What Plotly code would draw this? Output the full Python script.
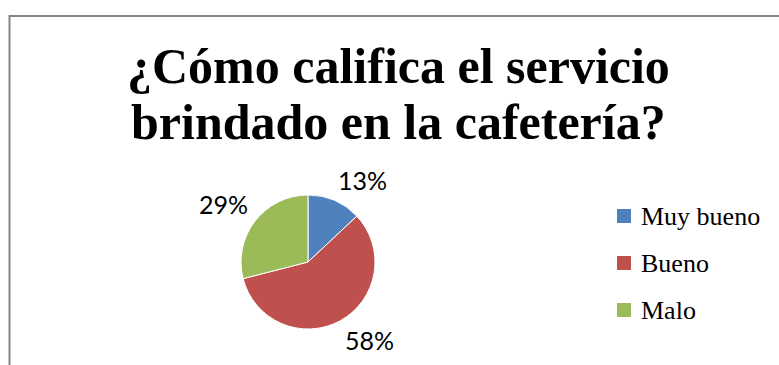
import math
import plotly.graph_objects as go

# Survey results: rating of the cafeteria service
categories = ["Muy bueno", "Bueno", "Malo"]
percentages = [13, 58, 29]
colors = ["#4F81BD", "#C0504D", "#9BBB59"]
title_lines = ["¿Cómo califica el servicio", "brindado en la cafetería?"]

W, H = 779, 365

# Pie geometry in pixels (from the top-left corner of the page)
cx_px, cy_px, r_px = 308, 262, 67

fig = go.Figure()
fig.add_trace(go.Pie(
    labels=categories,
    values=percentages,
    sort=False,
    direction="clockwise",
    rotation=0,
    marker=dict(colors=colors, line=dict(color="white", width=1)),
    textinfo="none",
    hoverinfo="label+percent",
    showlegend=False,
    domain=dict(
        x=[(cx_px - r_px) / W, (cx_px + r_px) / W],
        y=[(H - cy_px - r_px) / H, (H - cy_px + r_px) / H],
    ),
))

# Percentage labels just outside each slice, pushed outward by half the text box
label_gap = 10
half_w, half_h = 24, 11
total = sum(percentages)
cum = 0
annotations = []
for v in percentages:
    mid = (cum + v / 2) / total * 2 * math.pi
    cum += v
    sx, sy = math.sin(mid), math.cos(mid)  # sy > 0 means upward
    dist = r_px + label_gap
    px = cx_px + sx * dist + (half_w if sx >= 0 else -half_w)
    py = cy_px - sy * dist - (half_h if sy >= 0 else -half_h)
    annotations.append(dict(
        x=px / W, y=(H - py) / H, xref="paper", yref="paper",
        text=f"{round(v / total * 100)}%", showarrow=False,
        xanchor="center", yanchor="middle",
        font=dict(family="Lato", size=25, color="black"),
    ))

# Two-line bold title
for i, line in enumerate(title_lines):
    annotations.append(dict(
        x=398 / W, y=(H - (66 + i * 56)) / H, xref="paper", yref="paper",
        text=f"<b>{line}</b>", showarrow=False,
        xanchor="center", yanchor="middle",
        font=dict(family="Liberation Serif", size=50, color="black"),
    ))

# Legend: colour swatch + category name, one row per slice
legend_x, legend_top, legend_step, swatch = 617, 216, 47, 14
shapes = []
for i, (name, col) in enumerate(zip(categories, colors)):
    yc = legend_top + i * legend_step
    shapes.append(dict(
        type="rect", xref="paper", yref="paper",
        x0=legend_x / W, x1=(legend_x + swatch) / W,
        y0=(H - yc - swatch / 2) / H, y1=(H - yc + swatch / 2) / H,
        fillcolor=col, line=dict(width=0),
    ))
    annotations.append(dict(
        x=(legend_x + swatch + 8) / W, y=(H - yc) / H,
        xref="paper", yref="paper", text=name, showarrow=False,
        xanchor="left", yanchor="middle",
        font=dict(family="Liberation Serif", size=26, color="black"),
    ))

# Chart-area frame (continues past the right and bottom edges)
shapes.append(dict(
    type="rect", xref="paper", yref="paper",
    x0=9.5 / W, x1=1.05, y0=-0.1, y1=(H - 16) / H,
    line=dict(color="#868686", width=2),
    fillcolor="rgba(0,0,0,0)",
))

fig.update_layout(
    width=W, height=H,
    margin=dict(l=0, r=0, t=0, b=0),
    paper_bgcolor="white",
    plot_bgcolor="white",
    annotations=annotations,
    shapes=shapes,
)

fig.write_html("out.html")
